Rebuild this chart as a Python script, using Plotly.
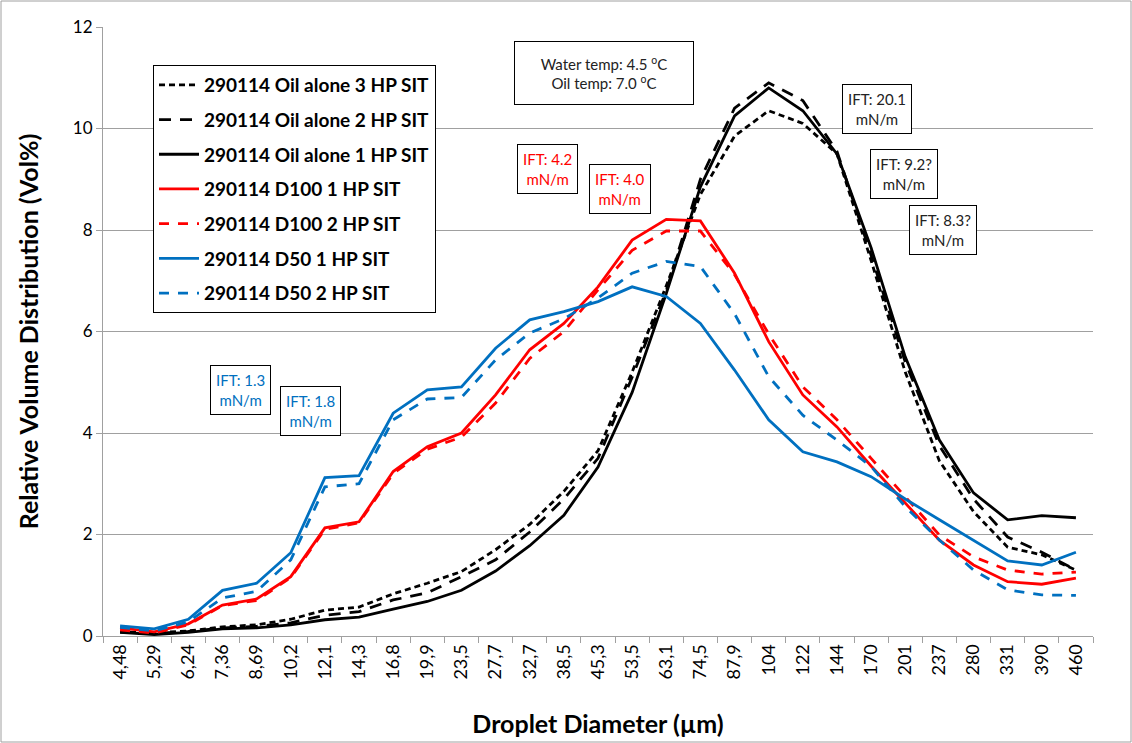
import plotly.graph_objects as go

cats = ["4,48","5,29","6,24","7,36","8,69","10,2","12,1","14,3","16,8","19,9","23,5","27,7","32,7",
        "38,5","45,3","53,5","63,1","74,5","87,9","104","122","144","170","201","237","280","331","390","460"]

oil3 = [0.08,0.06,0.10,0.18,0.22,0.33,0.51,0.57,0.83,1.04,1.27,1.70,2.20,2.85,3.65,5.20,6.90,8.70,9.85,10.35,10.10,9.50,7.40,5.20,3.45,2.45,1.75,1.60,1.30]
oil2 = [0.08,0.05,0.09,0.16,0.19,0.26,0.41,0.48,0.71,0.85,1.17,1.50,2.05,2.70,3.50,5.10,6.80,9.00,10.40,10.90,10.55,9.55,7.50,5.40,3.75,2.70,1.95,1.65,1.30]
oil1 = [0.07,0.03,0.07,0.14,0.16,0.22,0.32,0.37,0.53,0.68,0.90,1.28,1.78,2.38,3.33,4.80,6.75,8.85,10.25,10.80,10.35,9.50,7.65,5.50,3.86,2.82,2.29,2.37,2.33]
d100_1 = [0.16,0.08,0.24,0.61,0.73,1.17,2.13,2.25,3.24,3.73,4.00,4.75,5.64,6.16,6.88,7.80,8.21,8.18,7.15,5.80,4.75,4.12,3.35,2.62,1.89,1.40,1.07,1.02,1.14]
d100_2 = [0.12,0.06,0.22,0.60,0.70,1.15,2.10,2.23,3.20,3.68,3.92,4.59,5.47,6.00,6.82,7.60,7.98,7.98,7.12,5.95,4.91,4.26,3.50,2.75,1.99,1.56,1.30,1.22,1.26]
d50_1 = [0.20,0.14,0.33,0.90,1.04,1.64,3.12,3.16,4.39,4.85,4.91,5.67,6.23,6.39,6.59,6.88,6.69,6.16,5.24,4.26,3.63,3.43,3.14,2.70,2.29,1.89,1.48,1.40,1.65]
d50_2 = [0.17,0.10,0.28,0.75,0.88,1.50,2.94,3.00,4.26,4.67,4.70,5.44,5.97,6.25,6.66,7.15,7.38,7.28,6.35,5.11,4.35,3.86,3.34,2.55,1.89,1.30,0.91,0.81,0.80]

series = [
    ("290114 Oil alone 3 HP SIT", oil3, "black", "6px,4px"),
    ("290114 Oil alone 2 HP SIT", oil2, "black", "12px,9px"),
    ("290114 Oil alone 1 HP SIT", oil1, "black", "solid"),
    ("290114 D100 1 HP SIT", d100_1, "#FF0000", "solid"),
    ("290114 D100 2 HP SIT", d100_2, "#FF0000", "10px,9px"),
    ("290114 D50 1 HP SIT", d50_1, "#0070C0", "solid"),
    ("290114 D50 2 HP SIT", d50_2, "#0070C0", "10px,9px"),
]

FONT = "Lato"
fig = go.Figure()
for i, (name, vals, col, dash) in enumerate(series):
    fig.add_trace(go.Scatter(x=cats, y=vals, mode="lines", name=name, legendgroup=f"g{i}",
                             line=dict(color=col, width=2.8, dash=dash)))

L, R, T, B = 103, 39, 27, 107
W, H = 1132, 743
pw, ph = W - L - R, H - T - B

def px(x):
    return (x - L) / pw

def py(y):
    return (H - B - y) / ph

annots = [
    ("Water temp: 4.5 <sup>o</sup>C<br>Oil temp: 7.0 <sup>o</sup>C", 604, 73, "#222222", 168, 52),
    ("IFT: 4.2<br>mN/m", 547, 169, "#FF0000", None, None),
    ("IFT: 4.0<br>mN/m", 620, 189, "#FF0000", None, None),
    ("IFT: 1.3<br>mN/m", 240, 390, "#0070C0", None, None),
    ("IFT: 1.8<br>mN/m", 310, 411, "#0070C0", None, None),
    ("IFT: 20.1<br>mN/m", 877, 109, "#222222", None, None),
    ("IFT: 9.2?<br>mN/m", 904, 174, "#222222", None, None),
    ("IFT: 8.3?<br>mN/m", 943, 230, "#222222", None, None),
]
for text, x, y, col, w, h in annots:
    kw = {}
    if w:
        kw = dict(width=w, height=h)
    fig.add_annotation(text=text, x=px(x), y=py(y), xref="paper", yref="paper", showarrow=False,
                       xanchor="center", yanchor="middle", font=dict(family=FONT, size=15, color=col),
                       bordercolor="black", borderwidth=1, borderpad=5, bgcolor="white", **kw)

# outer frame
fig.add_shape(type="rect", xref="paper", yref="paper", x0=px(1), x1=px(W - 1), y0=py(H - 1), y1=py(1),
              line=dict(color="#A0A0A0", width=1), layer="below")

fig.update_layout(
    width=W, height=H,
    margin=dict(l=L, r=R, t=T, b=B),
    paper_bgcolor="white", plot_bgcolor="white",
    font=dict(family=FONT, size=15, color="black"),
    showlegend=True,
    legend=dict(x=px(153), y=py(65), xanchor="left", yanchor="top",
                bgcolor="white", bordercolor="black", borderwidth=1,
                font=dict(family=FONT, size=19, color="black", weight="bold"),
                tracegroupgap=7, traceorder="grouped", itemwidth=40),
    xaxis=dict(type="category", range=[-0.5, len(cats) - 0.5], tickangle=-90, automargin=False,
               showline=True, linecolor="#A0A0A0", linewidth=1, ticks="outside", tickson="boundaries",
               ticklen=6, tickcolor="#A0A0A0", showgrid=False,
               tickfont=dict(family=FONT, size=18, color="black"),
               title=dict(text="Droplet Diameter (µm)", font=dict(family=FONT, size=25, color="black", weight="bold"),
                          standoff=36)),
    yaxis=dict(range=[0, 12], dtick=2, showline=True, linecolor="#A0A0A0", linewidth=1, automargin=False,
               ticks="outside", ticklen=6, tickcolor="#A0A0A0",
               showgrid=True, gridcolor="#A0A0A0", gridwidth=1, zeroline=False,
               tickfont=dict(family=FONT, size=17, color="black"),
               title=dict(text="Relative Volume Distribution (Vol%)",
                          font=dict(family=FONT, size=25, color="black", weight="bold"), standoff=27)),
)

fig.write_html("out.html", config={"displayModeBar": False},
               post_script="document.body.style.margin='0';document.body.style.padding='0';")
